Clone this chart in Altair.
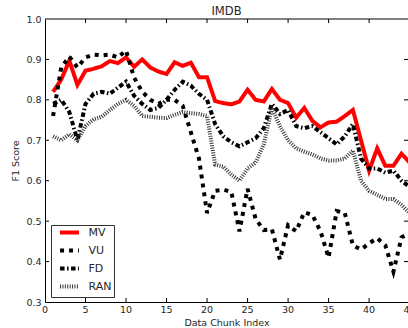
import altair as alt
import pandas as pd

chunks = list(range(1, 46))
mv = [0.82, 0.85, 0.897, 0.837, 0.872, 0.877, 0.883, 0.896, 0.891, 0.905,
      0.882, 0.90, 0.88, 0.87, 0.864, 0.893, 0.884, 0.892, 0.856, 0.856,
      0.797, 0.792, 0.789, 0.796, 0.825, 0.80, 0.796, 0.827, 0.80, 0.792,
      0.756, 0.78, 0.748, 0.732, 0.744, 0.746, 0.76, 0.775, 0.70, 0.625,
      0.68, 0.637, 0.637, 0.667, 0.645]
vu = [0.76, 0.88, 0.907, 0.88, 0.905, 0.912, 0.91, 0.912, 0.905, 0.922,
      0.855, 0.82, 0.80, 0.79, 0.80, 0.80, 0.785, 0.72, 0.655, 0.52,
      0.575, 0.578, 0.572, 0.475, 0.58, 0.505, 0.478, 0.48, 0.405, 0.49,
      0.475, 0.522, 0.515, 0.475, 0.41, 0.525, 0.52, 0.44, 0.43, 0.445,
      0.458, 0.44, 0.375, 0.46, 0.47]
fd = [0.79, 0.80, 0.77, 0.70, 0.79, 0.815, 0.82, 0.815, 0.83, 0.845,
      0.81, 0.79, 0.775, 0.78, 0.80, 0.825, 0.845, 0.835, 0.815, 0.80,
      0.74, 0.71, 0.695, 0.685, 0.695, 0.705, 0.73, 0.79, 0.765, 0.775,
      0.735, 0.73, 0.735, 0.72, 0.705, 0.69, 0.71, 0.74, 0.655, 0.63,
      0.63, 0.62, 0.625, 0.60, 0.585]
ran = [0.71, 0.70, 0.715, 0.70, 0.735, 0.752, 0.758, 0.775, 0.79, 0.80,
       0.785, 0.76, 0.758, 0.756, 0.755, 0.763, 0.77, 0.767, 0.765, 0.76,
       0.64, 0.635, 0.615, 0.60, 0.63, 0.645, 0.69, 0.78, 0.735, 0.70,
       0.68, 0.672, 0.665, 0.655, 0.65, 0.65, 0.655, 0.675, 0.60, 0.575,
       0.565, 0.555, 0.555, 0.54, 0.52]

series_names = ["MV", "VU", "FD", "RAN"]
series_colors = ["#ff0000", "#000000", "#000000", "#333333"]
series_dash = [[1, 0], [4, 5], [4.5, 2.5, 1.5, 2.5], [1, 1.4]]

x_ticks = [5, 10, 15, 20, 25, 30, 35, 40]
x_labels = [0, 5, 10, 15, 20, 25, 30, 35, 40, 45]
y_ticks = [0.4, 0.5, 0.6, 0.7, 0.8, 0.9]
y_labels = [0.3, 0.4, 0.5, 0.6, 0.7, 0.8, 0.9, 1.0]

W, H = 363, 283
XMAX = 44.8
YMAX = 1.0

rows = []
for name, vals in zip(series_names, [mv, vu, fd, ran]):
    for c, v in zip(chunks, vals):
        rows.append({"chunk": c, "f1": v, "series": name})
df = pd.DataFrame(rows)

FONT = "DejaVu Sans"
TXT = "#262626"

xscale = alt.Scale(domain=[0, XMAX], nice=False, zero=False)
yscale = alt.Scale(domain=[0.3, YMAX], nice=False, zero=False)

x_axis = alt.Axis(values=x_ticks, tickCount=30, title="Data Chunk Index", ticks=False,
                  labels=False, grid=False, titlePadding=15,
                  domainColor="black", orient="bottom")
y_axis = alt.Axis(values=y_labels, tickCount=30, format=".1f", title="F1 Score",
                  labelOverlap=False, ticks=False, grid=False, labelPadding=4,
                  titlePadding=5, domainColor="black")

lines = alt.Chart(df).mark_line(strokeWidth=4, clip=True, strokeCap="butt", strokeJoin="miter").encode(
    x=alt.X("chunk:Q", scale=xscale, axis=x_axis),
    y=alt.Y("f1:Q", scale=yscale, axis=y_axis),
    color=alt.Color("series:N",
                    scale=alt.Scale(domain=series_names, range=series_colors),
                    legend=alt.Legend(title=None, orient="bottom-left")),
    strokeDash=alt.StrokeDash("series:N",
                              scale=alt.Scale(domain=series_names, range=series_dash),
                              legend=alt.Legend(title=None, orient="bottom-left")),
    order=alt.Order("chunk:Q"),
)

xt = pd.DataFrame({"chunk": x_ticks})
yt = pd.DataFrame({"f1": y_ticks})
xl = pd.DataFrame({"chunk": x_labels, "label": [str(v) for v in x_labels]})
frame_top = pd.DataFrame({"chunk": [0.0], "chunk_end": [XMAX], "f1": [YMAX]})

top_spine = alt.Chart(frame_top).mark_rule(color="black", strokeWidth=1).encode(
    x=alt.X("chunk:Q", scale=xscale, axis=x_axis), x2="chunk_end:Q",
    y=alt.Y("f1:Q", scale=yscale, axis=y_axis))
top_ticks = alt.Chart(xt).mark_rule(color="black", strokeWidth=1).encode(
    x=alt.X("chunk:Q", scale=xscale, axis=x_axis),
    y=alt.value(0), y2=alt.value(4))
bottom_ticks = alt.Chart(xt).mark_rule(color="black", strokeWidth=1).encode(
    x=alt.X("chunk:Q", scale=xscale, axis=x_axis), y=alt.value(H - 4), y2=alt.value(H))
left_ticks = alt.Chart(yt).mark_rule(color="black", strokeWidth=1).encode(
    y=alt.Y("f1:Q", scale=yscale, axis=y_axis), x=alt.value(0), x2=alt.value(4))
right_ticks = alt.Chart(yt).mark_rule(color="black", strokeWidth=1).encode(
    y=alt.Y("f1:Q", scale=yscale, axis=y_axis), x=alt.value(W - 4), x2=alt.value(W))
x_tick_labels = alt.Chart(xl).mark_text(
    font=FONT, fontSize=9.5, color=TXT, baseline="top", align="center", clip=False
).encode(
    x=alt.X("chunk:Q", scale=xscale, axis=x_axis),
    y=alt.value(H + 3),
    text="label:N",
)

chart = alt.layer(lines, top_spine, bottom_ticks, left_ticks, right_ticks, top_ticks,
                  x_tick_labels).properties(
    width=W, height=H,
    title=alt.TitleParams("IMDB", fontSize=11.5, fontWeight="normal", font=FONT,
                          color=TXT, offset=-3),
    padding={"left": 45, "top": 19, "right": 0, "bottom": 26},
    autosize=alt.AutoSizeParams(type="none"),
).configure_view(stroke=None).configure_axis(
    labelFont=FONT, titleFont=FONT, labelFontSize=9.5, titleFontSize=9.5,
    labelColor=TXT, titleColor=TXT, titleFontWeight="normal", domainWidth=1,
).configure_legend(
    labelFont=FONT, labelFontSize=11, labelColor=TXT,
    symbolType="M-2.7,0H2.7", symbolSize=49, symbolStrokeWidth=4,
    strokeColor="#333333", fillColor="white", padding=2, offset=5.5,
    rowPadding=1, symbolOffset=11, labelOffset=13.5, cornerRadius=0,
)

chart.save("out.html", embed_options={"renderer": "svg", "actions": False})
